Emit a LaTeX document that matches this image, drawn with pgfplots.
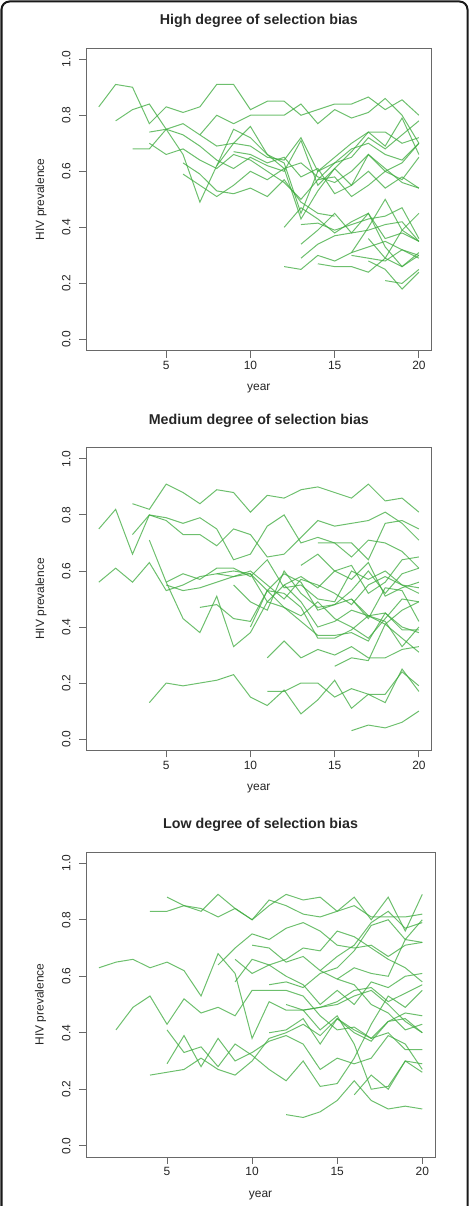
\documentclass[border=0pt]{standalone}
\usepackage{fontspec}
\setmainfont{Liberation Sans}
\usepackage{pgfplots}
\pgfplotsset{compat=1.18}
\definecolor{hivgreen}{RGB}{60,170,60}
\definecolor{axgray}{RGB}{105,105,105}
\pgfplotsset{
  hiv/.style={
    scale only axis,
    xmin=0.24, xmax=20.76, ymin=-0.04, ymax=1.04,
    axis line style={draw=axgray, line width=0.9bp},
    xtick={5,10,15,20}, xticklabels={5,10,15,20},
    ytick={0,0.2,0.4,0.6,0.8,1}, yticklabels={0.0,0.2,0.4,0.6,0.8,1.0},
    tick align=outside, tick pos=left,
    major tick length=7bp,
    every tick/.style={draw=axgray, line width=0.9bp},
    tick label style={font=\fontsize{12}{14}\selectfont, text=black!85},
    xticklabel style={anchor=north},
    yticklabel style={xshift=-5bp, rotate=90, anchor=south},
    xlabel={year}, ylabel={HIV prevalence},
    label style={font=\fontsize{12}{14}\selectfont, text=black!85},
    xlabel style={at={(axis description cs:0.5,-0.125)}, anchor=center},
    ylabel style={at={(axis description cs:-0.13,0.5)}, anchor=center},
    title style={font=\bfseries\fontsize{14.3}{17}\selectfont, text=black!85, at={(axis description cs:0.5,1.0925)}, anchor=center, yshift=-7bp},
    every axis plot post/.append style={draw=hivgreen, solid, line width=1bp, draw opacity=0.75, mark=none},
  }
}
\begin{document}
\begin{tikzpicture}[x=1bp,y=1bp]
\useasboundingbox (0,0) rectangle (471,1206);
\draw[line width=2bp, black!90, rounded corners=8bp] (1.5,-5) -- (1.5,1204.5) -- (467.5,1204.5) -- (467.5,-5);

% ---------------- High degree ----------------
\begin{axis}[hiv, at={(86bp,855.3bp)}, anchor=south west, width=345.7bp, height=302.7bp,
  title={High degree of selection bias}]
\addplot coordinates {(1,0.83)(2,0.91)(3,0.90)(4,0.77)(5,0.83)(6,0.81)(7,0.83)(8,0.91)(9,0.91)(10,0.82)(11,0.85)(12,0.85)(13,0.80)(14,0.82)(15,0.84)(16,0.84)(17,0.865)(18,0.82)(19,0.855)(20,0.80)};
\addplot coordinates {(2,0.78)(3,0.82)(4,0.84)(5,0.75)(6,0.66)(7,0.49)(8,0.62)(9,0.75)(10,0.72)(11,0.66)(12,0.63)(13,0.45)(14,0.60)(15,0.65)(16,0.70)(17,0.74)(18,0.74)(19,0.70)(20,0.72)};
\addplot coordinates {(3,0.68)(4,0.68)(5,0.75)(6,0.77)(7,0.73)(8,0.69)(9,0.70)(10,0.69)(11,0.65)(12,0.64)(13,0.72)(14,0.60)(15,0.63)(16,0.68)(17,0.70)(18,0.66)(19,0.64)(20,0.70)};
\addplot coordinates {(4,0.74)(5,0.75)(6,0.73)(7,0.69)(8,0.64)(9,0.61)(10,0.65)(11,0.62)(12,0.60)(13,0.71)(14,0.55)(15,0.61)(16,0.55)(17,0.66)(18,0.61)(19,0.56)(20,0.54)};
\addplot coordinates {(4,0.70)(5,0.66)(6,0.68)(7,0.64)(8,0.61)(9,0.66)(10,0.64)(11,0.60)(12,0.56)(13,0.50)(14,0.57)(15,0.58)(16,0.51)(17,0.55)(18,0.60)(19,0.57)(20,0.65)};
\addplot coordinates {(6,0.63)(7,0.59)(8,0.53)(9,0.52)(10,0.54)(11,0.51)(12,0.57)(13,0.49)(14,0.45)(15,0.44)};
\addplot coordinates {(6,0.59)(7,0.55)(8,0.51)(9,0.55)(10,0.60)(11,0.57)(12,0.61)(13,0.43)(14,0.53)(15,0.61)(16,0.67)(17,0.74)(18,0.69)(19,0.79)(20,0.66)};
\addplot coordinates {(7,0.73)(8,0.80)(9,0.77)(10,0.80)(11,0.80)(12,0.80)(13,0.84)(14,0.77)(15,0.82)(16,0.79)(17,0.81)(18,0.86)(19,0.80)(20,0.70)};
\addplot coordinates {(8,0.62)(9,0.70)(10,0.76)(11,0.66)(12,0.61)(13,0.63)(14,0.58)(15,0.56)(16,0.60)(17,0.66)(18,0.60)(19,0.63)(20,0.70)};
\addplot coordinates {(9,0.67)(10,0.66)(11,0.63)(12,0.65)(13,0.58)(14,0.61)(15,0.52)(16,0.55)(17,0.60)(18,0.54)(19,0.58)(20,0.54)};
\addplot coordinates {(14,0.57)(15,0.63)(16,0.65)(17,0.72)(18,0.68)(19,0.73)(20,0.78)};
\addplot coordinates {(12,0.26)(13,0.25)(14,0.30)(15,0.28)(16,0.31)(17,0.33)(18,0.35)(19,0.32)(20,0.29)};
\addplot coordinates {(14,0.27)(15,0.26)(16,0.26)(17,0.24)(18,0.29)(19,0.26)(20,0.30)};
\addplot coordinates {(12,0.40)(13,0.47)(14,0.43)(15,0.38)(16,0.42)(17,0.45)(18,0.36)(19,0.38)(20,0.35)};
\addplot coordinates {(13,0.41)(14,0.415)(15,0.39)(16,0.41)(17,0.43)(18,0.44)(19,0.47)(20,0.36)};
\addplot coordinates {(13,0.34)(14,0.39)(15,0.45)(16,0.38)(17,0.45)(18,0.33)(19,0.26)(20,0.31)};
\addplot coordinates {(13,0.29)(14,0.34)(15,0.37)(16,0.38)(17,0.39)(18,0.41)(19,0.42)(20,0.35)};
\addplot coordinates {(16,0.31)(17,0.40)(18,0.50)(19,0.39)(20,0.35)};
\addplot coordinates {(18,0.21)(19,0.20)(20,0.25)};
\addplot coordinates {(17,0.28)(18,0.25)(19,0.18)(20,0.24)};
\addplot coordinates {(16,0.30)(17,0.29)(18,0.28)(19,0.32)(20,0.30)};
\addplot coordinates {(17,0.36)(18,0.29)(19,0.39)(20,0.45)};
\end{axis}

% ---------------- Medium degree ----------------
\begin{axis}[hiv, at={(86bp,455.7bp)}, anchor=south west, width=345.7bp, height=302.6bp,
  title={Medium degree of selection bias}]
\addplot coordinates {(3,0.84)(4,0.82)(5,0.91)(6,0.88)(7,0.84)(8,0.89)(9,0.88)(10,0.81)(11,0.87)(12,0.86)(13,0.89)(14,0.90)(15,0.88)(16,0.86)(17,0.91)(18,0.85)(19,0.86)(20,0.81)};
\addplot coordinates {(1,0.75)(2,0.82)(3,0.66)(4,0.80)(5,0.79)(6,0.77)(7,0.79)(8,0.75)(9,0.64)(10,0.66)(11,0.76)(12,0.80)(13,0.70)(14,0.72)(15,0.70)(16,0.65)(17,0.71)(18,0.70)(19,0.67)(20,0.61)};
\addplot coordinates {(3,0.73)(4,0.80)(5,0.78)(6,0.73)(7,0.73)(8,0.69)(9,0.75)(10,0.73)(11,0.65)(12,0.66)(13,0.72)(14,0.78)(15,0.76)(16,0.77)(17,0.78)(18,0.81)(19,0.77)(20,0.71)};
\addplot coordinates {(14,0.70)(15,0.70)(16,0.70)(17,0.64)(18,0.77)(19,0.78)(20,0.75)};
\addplot coordinates {(1,0.56)(2,0.61)(3,0.56)(4,0.63)(5,0.53)(6,0.55)(7,0.58)(8,0.59)(9,0.60)(10,0.59)(11,0.49)(12,0.55)(13,0.58)(14,0.54)(15,0.60)(16,0.57)(17,0.63)(18,0.51)(19,0.54)(20,0.56)};
\addplot coordinates {(5,0.55)(6,0.53)(7,0.54)(8,0.56)(9,0.58)(10,0.60)(11,0.55)(12,0.50)(13,0.57)(14,0.55)(15,0.52)(16,0.48)(17,0.55)(18,0.58)(19,0.55)(20,0.52)};
\addplot coordinates {(5,0.56)(6,0.59)(7,0.57)(8,0.61)(9,0.61)(10,0.58)(11,0.64)(12,0.54)(13,0.55)(14,0.50)(15,0.49)(16,0.60)(17,0.57)(18,0.60)(19,0.55)(20,0.54)};
\addplot coordinates {(8,0.59)(9,0.58)(10,0.59)(11,0.53)(12,0.59)(13,0.56)(14,0.46)(15,0.48)(16,0.50)(17,0.44)(18,0.41)(19,0.36)(20,0.31)};
\addplot coordinates {(9,0.55)(10,0.49)(11,0.46)(12,0.60)(13,0.52)(14,0.47)(15,0.48)(16,0.53)(17,0.60)(18,0.52)(19,0.59)(20,0.61)};
\addplot coordinates {(10,0.40)(11,0.53)(12,0.52)(13,0.47)(14,0.36)(15,0.36)(16,0.39)(17,0.44)(18,0.45)(19,0.40)(20,0.38)};
\addplot coordinates {(13,0.62)(14,0.66)(15,0.60)(16,0.62)(17,0.52)(18,0.56)(19,0.64)(20,0.65)};
\addplot coordinates {(12,0.55)(13,0.49)(14,0.40)(15,0.42)(16,0.46)(17,0.44)(18,0.42)(19,0.33)(20,0.40)};
\addplot coordinates {(16,0.50)(17,0.43)(18,0.54)(19,0.53)(20,0.42)};
\addplot coordinates {(4,0.71)(5,0.56)(6,0.43)(7,0.38)(8,0.51)(9,0.33)(10,0.38)(11,0.49)(12,0.47)(13,0.42)(14,0.37)(15,0.37)(16,0.38)(17,0.35)(18,0.45)(19,0.39)(20,0.39)};
\addplot coordinates {(7,0.47)(8,0.48)(9,0.43)(10,0.42)(11,0.53)(12,0.47)(13,0.44)(14,0.49)(15,0.43)(16,0.40)(17,0.36)(18,0.43)(19,0.50)(20,0.49)};
\addplot coordinates {(11,0.29)(12,0.35)(13,0.29)(14,0.32)(15,0.30)(16,0.33)(17,0.29)(18,0.29)(19,0.32)(20,0.33)};
\addplot coordinates {(15,0.26)(16,0.29)(17,0.28)(18,0.41)(19,0.46)(20,0.49)};
\addplot coordinates {(4,0.13)(5,0.20)(6,0.19)(7,0.20)(8,0.21)(9,0.23)(10,0.15)(11,0.12)(12,0.175)(13,0.09)(14,0.14)(15,0.21)(16,0.11)(17,0.16)(18,0.13)(19,0.25)(20,0.17)};
\addplot coordinates {(11,0.17)(12,0.17)(13,0.20)(14,0.20)(15,0.15)(16,0.18)(17,0.16)(18,0.16)(19,0.24)(20,0.19)};
\addplot coordinates {(16,0.03)(17,0.05)(18,0.04)(19,0.06)(20,0.10)};
\end{axis}

% ---------------- Low degree ----------------
\begin{axis}[hiv, at={(86bp,49bp)}, anchor=south west, width=349.2bp, height=305bp,
  title={Low degree of selection bias}]
\addplot coordinates {(1,0.63)(2,0.65)(3,0.66)(4,0.63)(5,0.65)(6,0.62)(7,0.53)(8,0.68)(9,0.61)(10,0.38)(11,0.51)(12,0.48)(13,0.48)(14,0.49)(15,0.51)(16,0.55)(17,0.56)(18,0.51)(19,0.54)(20,0.57)};
\addplot coordinates {(4,0.83)(5,0.83)(6,0.85)(7,0.83)(8,0.89)(9,0.84)(10,0.80)(11,0.87)(12,0.85)(13,0.82)(14,0.81)(15,0.83)(16,0.85)(17,0.81)(18,0.81)(19,0.81)(20,0.82)};
\addplot coordinates {(5,0.88)(6,0.85)(7,0.84)(8,0.81)(9,0.84)(10,0.80)(11,0.85)(12,0.89)(13,0.87)(14,0.88)(15,0.83)(16,0.88)(17,0.80)(18,0.88)(19,0.76)(20,0.89)};
\addplot coordinates {(2,0.41)(3,0.49)(4,0.53)(5,0.43)(6,0.52)(7,0.47)(8,0.49)(9,0.46)(10,0.55)(11,0.55)(12,0.55)(13,0.53)(14,0.46)(15,0.41)(16,0.42)(17,0.38)(18,0.44)(19,0.47)(20,0.46)};
\addplot coordinates {(8,0.64)(9,0.70)(10,0.75)(11,0.73)(12,0.77)(13,0.79)(14,0.76)(15,0.71)(16,0.70)(17,0.71)(18,0.67)(19,0.71)(20,0.72)};
\addplot coordinates {(9,0.66)(10,0.61)(11,0.64)(12,0.66)(13,0.70)(14,0.69)(15,0.76)(16,0.74)(17,0.70)(18,0.66)(19,0.63)(20,0.58)};
\addplot coordinates {(11,0.57)(12,0.58)(13,0.56)(14,0.61)(15,0.63)(16,0.69)(17,0.78)(18,0.80)(19,0.73)(20,0.80)};
\addplot coordinates {(14,0.62)(15,0.67)(16,0.71)(17,0.79)(18,0.83)(19,0.77)(20,0.79)};
\addplot coordinates {(15,0.59)(16,0.63)(17,0.61)(18,0.60)(19,0.73)(20,0.72)};
\addplot coordinates {(5,0.29)(6,0.39)(7,0.28)(8,0.38)(9,0.30)(10,0.33)(11,0.37)(12,0.39)(13,0.36)(14,0.27)(15,0.31)(16,0.29)(17,0.31)(18,0.39)(19,0.36)(20,0.27)};
\addplot coordinates {(4,0.25)(5,0.26)(6,0.27)(7,0.31)(8,0.27)(9,0.25)(10,0.30)(11,0.38)(12,0.40)(13,0.43)(14,0.39)(15,0.45)(16,0.40)(17,0.37)(18,0.44)(19,0.45)(20,0.40)};
\addplot coordinates {(5,0.41)(6,0.33)(7,0.35)(8,0.28)(9,0.36)(10,0.32)(11,0.27)(12,0.23)(13,0.30)(14,0.21)(15,0.22)(16,0.31)(17,0.43)(18,0.53)(19,0.49)(20,0.55)};
\addplot coordinates {(13,0.48)(14,0.41)(15,0.46)(16,0.36)(17,0.20)(18,0.21)(19,0.30)(20,0.26)};
\addplot coordinates {(12,0.11)(13,0.10)(14,0.12)(15,0.16)(16,0.23)(17,0.16)(18,0.13)(19,0.14)(20,0.13)};
\addplot coordinates {(16,0.18)(17,0.25)(18,0.20)(19,0.30)(20,0.29)};
\addplot coordinates {(11,0.40)(12,0.41)(13,0.45)(14,0.36)(15,0.45)(16,0.41)(17,0.38)(18,0.40)(19,0.34)(20,0.34)};
\addplot coordinates {(12,0.50)(13,0.48)(14,0.49)(15,0.50)(16,0.53)(17,0.55)(18,0.50)(19,0.44)(20,0.40)};
\addplot coordinates {(10,0.71)(11,0.70)(12,0.65)(13,0.67)(14,0.62)(15,0.59)(16,0.57)(17,0.50)(18,0.47)(19,0.41)(20,0.43)};
\addplot coordinates {(9,0.58)(10,0.66)(11,0.64)(12,0.60)(13,0.57)(14,0.50)(15,0.55)(16,0.50)(17,0.58)(18,0.56)(19,0.60)(20,0.61)};
\end{axis}
\end{tikzpicture}
\end{document}
